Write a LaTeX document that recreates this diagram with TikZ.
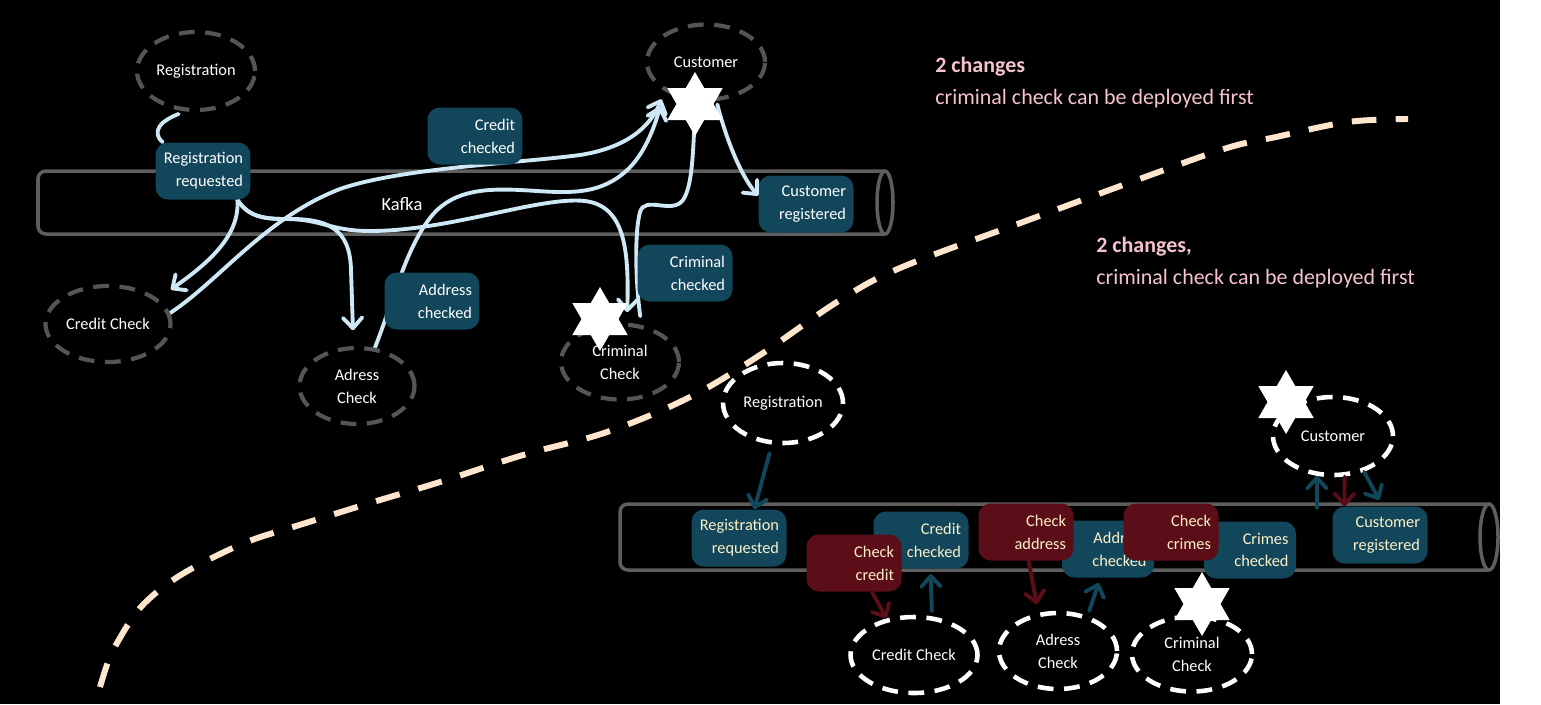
\documentclass[tikz,border=0pt]{standalone}
\usepackage{fontspec}
\setmainfont{Carlito}
\usepackage{xcolor}
\usepackage{tikz}
\usetikzlibrary{shapes.geometric, arrows.meta, backgrounds}

\definecolor{oldgray}{HTML}{555555}
\definecolor{pipegray}{HTML}{5E5E5E}
\definecolor{flowblue}{HTML}{CFE8F6}
\definecolor{evteal}{HTML}{12465A}
\definecolor{cmdred}{HTML}{5B0E18}
\definecolor{notepink}{HTML}{F6C3CD}
\definecolor{dividercream}{HTML}{FDE6CD}
\definecolor{evtext}{HTML}{FCF0C8}

\newcommand{\lblfont}{\fontsize{9.3}{13}\selectfont}

\pgfdeclarelayer{background}
\pgfdeclarelayer{wires}
\pgfsetlayers{background,wires,main}

\begin{document}
\begin{tikzpicture}[
    x=0.02cm, y=-0.02cm,
    service/.style={ellipse, draw=oldgray, line width=2.4pt, dash pattern=on 9pt off 6pt,
      minimum width=2.36cm, minimum height=1.52cm, inner sep=0pt, align=center,
      text=white, font=\lblfont},
    newservice/.style={service, draw=white, line width=2.6pt},
    event/.style={fill=evteal, rounded corners=7pt, minimum height=1.14cm,
      text width=1.6cm, inner xsep=0.15cm, align=right, text=white, font=\lblfont},
    newevent/.style={event, text=evtext},
    command/.style={newevent, fill=cmdred},
    pipe/.style={draw=pipegray, line width=2pt},
    divider/.style={draw=dividercream, line width=3.4pt, dash pattern=on 14pt off 11pt},
    flow/.style={draw=flowblue, line width=2.2pt, line cap=round,
      -{Straight Barb[round, length=6pt, width=11pt]}},
    evflow/.style={flow, draw=evteal},
    cmdflow/.style={flow, draw=cmdred},
    badge/.style={star, star points=6, star point ratio=1.732, fill=white,
      minimum size=1.28cm, inner sep=0pt},
    note/.style={text=notepink, align=left, inner sep=0pt, font=\fontsize{12.5}{18}\selectfont}
]
\useasboundingbox (0,0) rectangle (1541,704);

\begin{pgfonlayer}{background}
  \fill[white] (0,0) rectangle (1541,704);
  \fill[black] (0,0) rectangle (1500,704);
  % the divider
  \draw[divider] plot[smooth, tension=0.6] coordinates {(100,687) (108,662) (117,643)
    (140,608) (173,580) (212,558) (252,540) (293,527) (370,503) (440,482) (523,455)
    (607,432) (690,397) (760,355) (837,302) (900,268) (1023,222) (1145,177)
    (1227,148) (1276,137) (1348,122) (1408,119)};
  % kafka pipes
  \draw[pipe, rounded corners=4.5pt] (885,171) -- (38,171) -- (38,234) -- (885,234);
  \draw[pipe] (885,202.5) ellipse [x radius=8, y radius=31.5];
  \draw[pipe, rounded corners=4.5pt] (1489,504) -- (620,504) -- (620,570) -- (1489,570);
  \draw[pipe] (1489,537) ellipse [x radius=9, y radius=33];
\end{pgfonlayer}

% before: services
\node[service, minimum height=1.56cm] (reg_up) at (196,71) {Registration};
\node[service, minimum height=1.5cm] (cust_up) at (706,62) {Customer};
\node[service, minimum width=2.5cm] (credit_up) at (108,324) {Credit Check};
\node[service, minimum width=2.3cm] (addr_up) at (357,386) {Adress\\Check};
\node[service, minimum height=1.5cm] (crime_up) at (620,362) {Criminal\\Check};
\node[text=white, font=\fontsize{10.5}{12}\selectfont] (kafka_up) at (402,204) {Kafka};

% before: events
\node[event] (req_up) at (203,171) {Registration\\requested};
\node[event] (credok_up) at (475,136) {Credit\\checked};
\node[event] (addrok_up) at (432,301) {Address\\checked};
\node[event] (crimeok_up) at (685,273) {Criminal\\checked};
\node[event] (custreg_up) at (806,204) {Customer\\registered};

\begin{pgfonlayer}{wires}
  \draw[flow, -, shorten <=4pt] (reg_up.255) .. controls (150,125) and (157,138) .. (req_up);
  \draw[flow, shorten >=9pt] (req_up.-40) .. controls (240,235) and (210,262) .. (credit_up.27);
  \draw[flow, shorten >=9pt] (req_up.-40) .. controls (248,216) and (262,219) .. (285,219)
    .. controls (330,218) and (350,230) .. (351,270) -- (addr_up.95);
  \draw[flow, shorten >=6pt] (req_up.-40) .. controls (248,216) and (262,219) .. (285,219)
    .. controls (322,219) and (330,231) .. (370,231) .. controls (450,231) and (540,196) .. (585,201)
    .. controls (625,206) and (629,250) .. (crime_up.80);
  \draw[flow, shorten >=5pt] (credit_up.10) .. controls (220,280) and (265,218) .. (340,189)
    .. controls (400,168) and (520,163) .. (580,155) .. controls (625,148) and (650,128) .. (cust_up.215);
  \draw[flow, shorten >=9pt] (addr_up.65) .. controls (392,305) and (405,250) .. (430,218)
    .. controls (450,192) and (480,188) .. (520,190) .. controls (560,192) and (595,198) .. (625,172)
    .. controls (645,155) and (655,125) .. (cust_up.215);
  \draw[flow, shorten <=5pt] (crime_up.60) .. controls (636,285) and (634,235) .. (640,212)
    .. controls (645,195) and (672,215) .. (683,200) .. controls (693,185) and (693,150) .. (cust_up.255);
\end{pgfonlayer}
\draw[flow, shorten <=2pt] (cust_up.285) .. controls (725,135) and (740,175) .. (custreg_up.170);

% after: services
\node[newservice, minimum width=2.4cm, minimum height=1.6cm] (reg_low) at (783,403) {Registration};
\node[newservice, minimum width=2.54cm] (credit_low) at (914,655) {Credit Check};
\node[newservice] (addr_low) at (1058,651) {Adress\\Check};
\node[newservice, minimum width=2.4cm, minimum height=1.5cm] (crime_low) at (1192,654) {Criminal\\Check};
\node[newservice, minimum width=2.4cm, minimum height=1.56cm] (cust_low) at (1333,436) {Customer};

% after: events and commands
\node[newevent] (req_low) at (739,538) {Registration\\requested};
\node[newevent] (credok_low) at (921,540) {Credit\\checked};
\node[command] (chkcred_low) at (854,563) {Check\\credit};
\node[newevent, minimum width=1.84cm, text width=1.54cm] (addrok_low) at (1108,549) {Address\\checked};
\node[command] (chkaddr_low) at (1026,532) {Check\\address};
\node[newevent, minimum width=1.84cm, text width=1.54cm] (crimeok_low) at (1250,550) {Crimes\\checked};
\node[command] (chkcrime_low) at (1171,532) {Check\\crimes};
\node[newevent] (custreg_low) at (1380,535) {Customer\\registered};
\coordinate (pipe_low_top) at (1317,508);

\draw[evflow, shorten <=5pt] (reg_low.255) -- (req_low.62);
\draw[cmdflow] (chkcred_low.-58) -- (credit_low.127);
\draw[evflow, shorten <=3pt, shorten >=3pt] (credit_low.65) -- (credok_low.-72);
\draw[cmdflow, shorten >=5pt] (chkaddr_low.-85) -- (addr_low.117);
\draw[evflow, shorten <=3pt, shorten >=3pt] (addr_low.50) -- (addrok_low.-105);
\draw[evflow] (pipe_low_top) -- (cust_low.248);
\draw[cmdflow] (cust_low.-74) -- (custreg_low.141);
\draw[evflow, shorten >=4pt] (cust_low.-49) -- (custreg_low.85);

% deploy markers
\node[badge] (star_cust_up) at (695,104) {};
\node[badge] (star_crime_up) at (600,319) {};
\node[badge] (star_cust_low) at (1286,402) {};
\node[badge] (star_crime_low) at (1202,604) {};

% notes
\node[note, anchor=north west] (note_up) at (935,57) {\textbf{2 changes}\\criminal check can be deployed first};
\node[note, anchor=north west] (note_low) at (1096,237) {\textbf{2 changes,}\\criminal check can be deployed first};
\end{tikzpicture}
\end{document}
